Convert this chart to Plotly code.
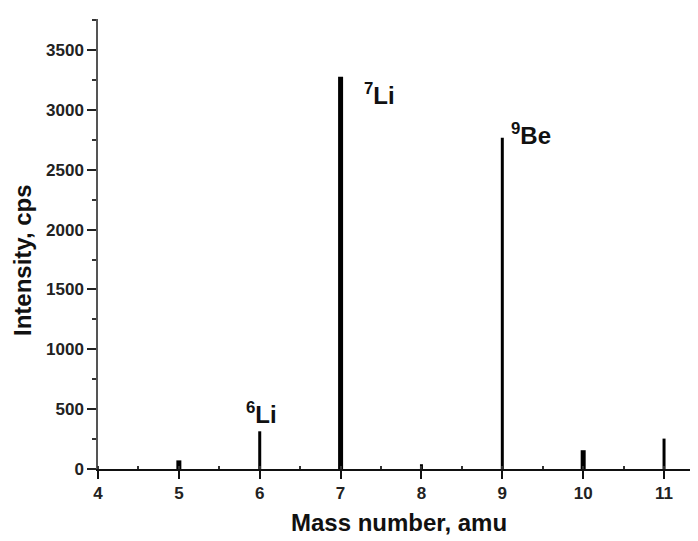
import plotly.graph_objects as go

mass = [5, 6, 7, 8, 9, 10, 11]
intensity = [72, 315, 3278, 40, 2767, 157, 254]
bar_widths_px = [5, 3, 5, 3, 3, 5, 3]

labels = ["<sup>6</sup>Li", "<sup>7</sup>Li", "<sup>9</sup>Be"]
label_x = [5.80, 7.26, 9.08]
label_y = [470, 3130, 2800]

x_range = [4, 11.42]
y_range = [0, 3760]

# page has an 8px body margin; compensate so the plot sits where the reference has it
W, H = 690, 533
ML, MR, MT, MB = 90, 0, 11, 72
plot_w = W - ML - MR
plot_h = H - MT - MB
px_per_unit = plot_w / (x_range[1] - x_range[0])

fig = go.Figure()
fig.add_trace(go.Bar(
    x=mass, y=intensity,
    width=[w / px_per_unit for w in bar_widths_px],
    marker=dict(color="black", line=dict(width=0)),
    showlegend=False,
))

for t, x, y in zip(labels, label_x, label_y):
    fig.add_annotation(x=x, y=y, text=t, showarrow=False, xanchor="left", yanchor="middle",
                       font=dict(family="Liberation Sans, Arial", size=24, color="#111", weight="bold"))

font_tick = dict(family="Liberation Sans, Arial", size=17, color="#222", weight="bold")
font_title = dict(family="Liberation Sans, Arial", size=24, color="#111", weight="bold")

# axis titles
fig.add_annotation(text="Mass number, amu", xref="paper", yref="paper",
                   x=(391 - ML) / plot_w, y=-53 / plot_h, xanchor="center", yanchor="middle",
                   showarrow=False, font=font_title)
fig.add_annotation(text="Intensity, cps", xref="paper", yref="paper", textangle=-90,
                   x=(14 - ML) / plot_w, y=(MT + plot_h - 252) / plot_h, xanchor="center", yanchor="middle",
                   showarrow=False, font=font_title)

fig.update_layout(
    width=W, height=H,
    margin=dict(l=ML, r=MR, t=MT, b=MB),
    plot_bgcolor="white", paper_bgcolor="white",
    font=dict(family="Liberation Sans, Arial"),
    xaxis=dict(
        range=x_range, tickvals=[4, 5, 6, 7, 8, 9, 10, 11],
        ticks="outside", ticklen=8, tickwidth=1.5, tickcolor="#111",
        showline=True, linecolor="#111", linewidth=1.5,
        showgrid=False, zeroline=False, automargin=False,
        tickfont=font_tick,
        minor=dict(dtick=0.5, tick0=4, ticks="inside", ticklen=3, tickwidth=1.5, tickcolor="#333", showgrid=False),
    ),
    yaxis=dict(
        range=y_range, tickvals=[0, 500, 1000, 1500, 2000, 2500, 3000, 3500],
        ticks="outside", ticklen=9, tickwidth=1.5, tickcolor="#222",
        showline=True, linecolor="#555", linewidth=1.5,
        showgrid=False, zeroline=False, automargin=False,
        tickfont=font_tick,
        minor=dict(dtick=250, tick0=0, ticks="outside", ticklen=4, tickwidth=1.5, tickcolor="#333", showgrid=False),
    ),
)

fig.write_html("out.html")
